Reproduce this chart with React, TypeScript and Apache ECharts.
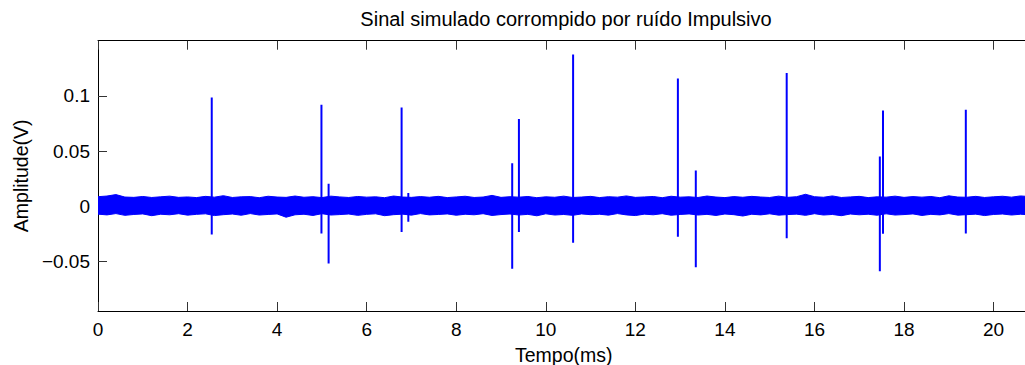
import React, { useEffect, useRef } from "react";
import * as echarts from "echarts";

// Noise envelope, sampled every 0.2 ms (upper and lower edges of the noise band), in V
const noiseStep = 0.2;
const noiseUpper = [
  0.0086, 0.0092, 0.0105, 0.0083, 0.008, 0.0088, 0.0079, 0.0085, 0.0091, 0.008,
  0.0084, 0.0078, 0.0089, 0.0082, 0.0095, 0.0079, 0.0085, 0.0087, 0.0077, 0.009,
  0.0083, 0.008, 0.0092, 0.0081, 0.0086, 0.0078, 0.0091, 0.0084, 0.0079, 0.0088,
  0.0082, 0.0085, 0.0077, 0.0092, 0.0083, 0.008, 0.0087, 0.0081, 0.0089, 0.0078,
  0.0084, 0.009, 0.0079, 0.0083, 0.0098, 0.008, 0.0086, 0.0082, 0.0088, 0.0077,
  0.0085, 0.0081, 0.0091, 0.0079, 0.0083, 0.0089, 0.0078, 0.0086, 0.0082, 0.0093,
  0.008, 0.0084, 0.0088, 0.0077, 0.009, 0.0082, 0.0085, 0.0079, 0.0092, 0.0083,
  0.0078, 0.0087, 0.0081, 0.0089, 0.0083, 0.0079, 0.0091, 0.008, 0.0086, 0.0108,
  0.0086, 0.0081, 0.0093, 0.0079, 0.0084, 0.0089, 0.0078, 0.0085, 0.0082, 0.0091,
  0.008, 0.0087, 0.0082, 0.0088, 0.0077, 0.0094, 0.0083, 0.0081, 0.0089, 0.0079,
  0.0085, 0.009, 0.0082, 0.0093, 0.0087,
];
const noiseLower = [
  -0.0072, -0.0079, -0.0067, -0.0083, -0.0075, -0.007, -0.0086, -0.0073, -0.0078, -0.0068,
  -0.0081, -0.0074, -0.0069, -0.0085, -0.0077, -0.0071, -0.0082, -0.0067, -0.008, -0.0075,
  -0.007, -0.01, -0.0078, -0.0073, -0.0084, -0.0068, -0.008, -0.0076, -0.0071, -0.0083,
  -0.0074, -0.0069, -0.0086, -0.0077, -0.0072, -0.0081, -0.0067, -0.0079, -0.0075, -0.007,
  -0.0082, -0.0073, -0.0078, -0.0068, -0.0084, -0.0076, -0.0071, -0.008, -0.0074, -0.0087,
  -0.0069, -0.008, -0.0075, -0.0083, -0.007, -0.0077, -0.0073, -0.0081, -0.0067, -0.0079,
  -0.0085, -0.0072, -0.0078, -0.0068, -0.0082, -0.0075, -0.007, -0.008, -0.0074, -0.0084,
  -0.0071, -0.0077, -0.0089, -0.0073, -0.0079, -0.0069, -0.0081, -0.0076, -0.0072, -0.0083,
  -0.0068, -0.008, -0.0075, -0.0086, -0.0071, -0.0078, -0.0073, -0.0082, -0.0069, -0.008,
  -0.0076, -0.007, -0.0084, -0.0074, -0.0079, -0.0067, -0.0081, -0.0077, -0.0072, -0.0085,
  -0.0075, -0.0071, -0.008, -0.0073, -0.0078,
];

// Impulses (ms, V)
const spikeTimes = [2.54, 4.99, 5.15, 6.78, 6.93, 9.25, 9.4, 10.61, 12.95, 13.35, 15.38, 17.46, 17.53, 19.38];
const spikePeaks = [0.0985, 0.092, 0.0203, 0.0894, 0.012, 0.039, 0.079, 0.1374, 0.1157, 0.0323, 0.1208, 0.045, 0.0867, 0.0873];
const spikeTroughs = [-0.0256, -0.0247, -0.052, -0.0235, -0.014, -0.0567, -0.0235, -0.0332, -0.0277, -0.0553, -0.029, -0.0589, -0.025, -0.0247];

const xTicks = [0, 2, 4, 6, 8, 10, 12, 14, 16, 18, 20];
const yTicks = [-0.05, 0, 0.05, 0.1];
const xMin = 0;
const xMax = 20.8;
const yMin = -0.095;
const yMax = 0.15;

const titleText = "Sinal simulado corrompido por ruído Impulsivo";
const xName = "Tempo(ms)";
const yName = "Amplitude(V)";

const FONT = "'Liberation Sans', Arial, Helvetica, sans-serif";

export default function App() {
  const ref = useRef<HTMLDivElement>(null);
  useEffect(() => {
    if (!ref.current) return;
    const chart = echarts.init(ref.current, undefined, { renderer: "svg" });
    const upperData = noiseUpper.map((v, i) => [+(i * noiseStep).toFixed(2), v]);
    const lowerData = noiseLower.map((v, i) => [+(i * noiseStep).toFixed(2), v]);
    const spikeData: number[][] = [[xMin, 0]];
    spikeTimes.forEach((t, i) => {
      spikeData.push([t, 0], [t, spikePeaks[i]], [t, spikeTroughs[i]], [t, 0]);
    });
    spikeData.push([xMax, 0]);
    const blue = "#0000ff";
    const fmtY = (v: number) => (v < 0 ? "\u2212" + String(Math.abs(v)) : String(v));
    chart.setOption({
      animation: false,
      graphic: [
        {
          type: "text",
          x: 566,
          y: 18.5,
          style: {
            text: titleText,
            fill: "#000",
            font: `20px ${FONT}`,
            textAlign: "center",
            textVerticalAlign: "middle",
          },
        },
      ],
      grid: { left: 98, top: 40.7, bottom: 54, right: 10.6, show: false, outerBoundsMode: "none", containLabel: false },
      xAxis: [
        {
          type: "value",
          min: xMin,
          max: xMax,
          name: xName,
          nameLocation: "middle",
          nameGap: 34,
          nameTextStyle: { fontFamily: FONT, fontSize: 19.5, color: "#000" },
          axisLine: { show: true, onZero: false, lineStyle: { color: "#000", width: 1 } },
          axisTick: { show: true, inside: true, length: 9, customValues: xTicks, lineStyle: { color: "#333" } },
          axisLabel: { customValues: xTicks, fontFamily: FONT, fontSize: 19, color: "#000", margin: 9 },
          splitLine: { show: false },
        },
        {
          type: "value",
          position: "top",
          min: xMin,
          max: xMax,
          axisLine: { show: true, onZero: false, lineStyle: { color: "#000", width: 1 } },
          axisTick: { show: true, inside: true, length: 9, customValues: xTicks, lineStyle: { color: "#333" } },
          axisLabel: { show: false },
          splitLine: { show: false },
        },
      ],
      yAxis: [
        {
          type: "value",
          min: yMin,
          max: yMax,
          name: yName,
          nameLocation: "middle",
          nameGap: 62,
          nameTextStyle: { fontFamily: FONT, fontSize: 19.5, color: "#000" },
          axisLine: { show: true, onZero: false, lineStyle: { color: "#000", width: 1 } },
          axisTick: { show: true, inside: true, length: 9, customValues: yTicks, lineStyle: { color: "#333" } },
          axisLabel: {
            customValues: yTicks,
            fontFamily: FONT,
            fontSize: 19,
            color: "#000",
            margin: 8,
            formatter: fmtY,
          },
          splitLine: { show: false },
        },
      ],
      series: [
        {
          type: "line",
          data: upperData,
          symbol: "none",
          lineStyle: { color: blue, width: 1 },
          areaStyle: { color: blue, opacity: 1 },
          silent: true,
        },
        {
          type: "line",
          data: lowerData,
          symbol: "none",
          lineStyle: { color: blue, width: 1 },
          areaStyle: { color: blue, opacity: 1 },
          silent: true,
        },
        {
          type: "line",
          data: spikeData,
          symbol: "none",
          lineStyle: { color: blue, width: 2 },
          silent: true,
        },
      ],
    });
    return () => chart.dispose();
  }, []);
  return (
    <div style={{ position: "absolute", left: 0, top: 0, width: 1025, height: 365, overflow: "hidden", background: "#fff" }}>
      <div ref={ref} style={{ width: 1040, height: 365 }} />
    </div>
  );
}
